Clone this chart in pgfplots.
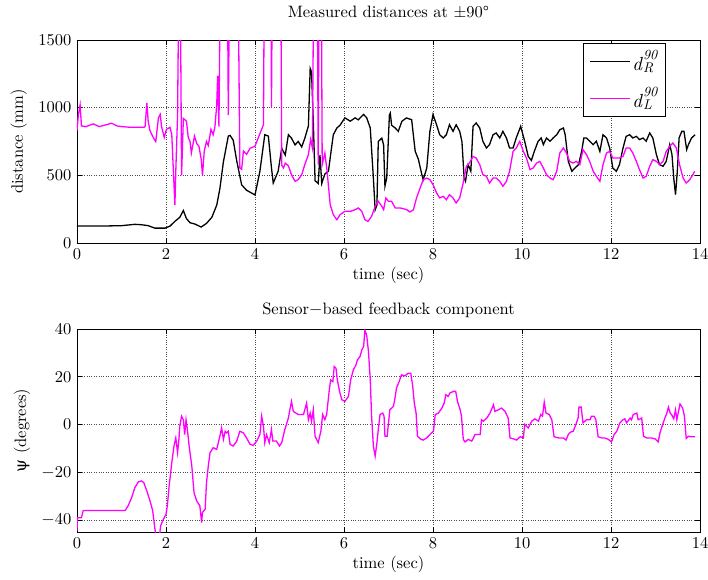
\documentclass[border=0pt]{standalone}
\usepackage{fontspec}
\setmainfont{lmroman10-regular.otf}[ItalicFont=lmroman10-italic.otf]
\newfontfamily\psifont{DejaVu Serif}
\usepackage{pgfplots}
\pgfplotsset{compat=1.18}
\definecolor{mag}{RGB}{255,0,255}
\newcommand{\dlab}[1]{\textit{d}\raisebox{-2pt}{\fontsize{14}{14}\selectfont\itshape\shortstack[l]{90\\#1}}}
\pgfplotsset{
 mstyle/.style={
  scale only axis, width=623pt, height=203pt,
  xmin=0, xmax=14, xtick={0,2,4,6,8,10,12,14},
  xticklabels={0,2,4,6,8,10,12,14},
  grid=major, grid style={dotted, black!70, line width=0.6pt},
  tick align=inside, major tick length=5pt,
  axis line style={line width=0.8pt},
  every tick/.style={black, line width=0.6pt},
  xlabel={time (sec)},
  xlabel style={yshift=4pt},
 }
}
\begin{document}
\fontsize{16.5}{19}\selectfont
\begin{tikzpicture}
\useasboundingbox (-77pt,-336pt) rectangle (631pt,243pt);
\begin{axis}[mstyle, at={(0pt,0pt)}, anchor=south west,
  ymin=0, ymax=1500, ytick={0,500,1000,1500}, yticklabels={0,500,1000,1500},
  ylabel={distance (mm)},
  title={Measured distances at ±90°},
  title style={yshift=10pt},
  legend style={at={(0.945,0.985)}, anchor=north east, draw=black, line width=0.8pt, inner xsep=6pt, inner ysep=5pt, row sep=10pt, font=\fontsize{19}{22}\selectfont},
  legend image code/.code={\draw[#1, line width=1.2pt] (0pt,0pt) -- (40pt,0pt);},
]
\addplot[black, line width=1.3pt] coordinates {
(0,125)(0.5,125)(1.0,128)(1.3,138)(1.45,135)(1.6,128)(1.75,110)(1.98,110)(2.09,125)(2.2,160)(2.31,190)(2.39,240)(2.46,180)(2.54,150)(2.65,140)(2.79,118)(2.91,145)(3.03,190)(3.14,280)(3.21,400)(3.29,600)(3.4,790)(3.44,795)(3.51,760)(3.59,606)(3.7,430)(3.81,390)(4.0,355)(4.11,530)(4.22,800)(4.3,790)(4.37,555)(4.41,443)(4.52,530)(4.6,700)(4.68,650)(4.75,800)(4.82,775)(4.9,725)(4.97,750)(5.05,710)(5.12,775)(5.2,865)(5.24,1290)(5.27,1265)(5.31,900)(5.35,460)(5.42,440)(5.46,650)(5.5,440)(5.57,510)(5.65,530)(5.69,630)(5.76,800)(5.84,850)(5.91,870)(6.02,925)(6.14,900)(6.25,925)(6.32,910)(6.44,950)(6.51,925)(6.59,850)(6.66,480)(6.7,245)(6.74,280)(6.77,750)(6.85,775)(6.89,725)(6.92,420)(6.96,480)(7.02,945)(7.04,960)(7.07,870)(7.15,850)(7.22,825)(7.3,899)(7.4,924)(7.52,911)(7.6,677)(7.67,620)(7.75,505)(7.78,468)(7.86,554)(7.93,825)(8.0,949)(8.08,874)(8.15,800)(8.23,776)(8.3,800)(8.37,874)(8.45,825)(8.52,874)(8.6,825)(8.65,750)(8.7,480)(8.73,456)(8.79,579)(8.85,530)(8.9,862)(8.97,887)(9.05,850)(9.12,752)(9.2,702)(9.27,727)(9.35,800)(9.42,813)(9.5,776)(9.57,825)(9.65,776)(9.72,702)(9.8,702)(9.87,776)(9.97,862)(10.06,752)(10.14,640)(10.21,610)(10.28,680)(10.36,750)(10.43,776)(10.48,727)(10.55,776)(10.63,752)(10.7,776)(10.78,800)(10.85,837)(10.93,850)(10.97,800)(11.04,603)(11.12,530)(11.19,554)(11.27,579)(11.34,677)(11.39,776)(11.45,776)(11.52,752)(11.6,727)(11.67,752)(11.75,677)(11.82,800)(11.9,776)(11.97,702)(12.04,554)(12.12,530)(12.19,579)(12.27,702)(12.34,788)(12.42,800)(12.49,776)(12.57,788)(12.64,764)(12.72,776)(12.79,752)(12.87,813)(12.94,776)(13.02,653)(13.09,579)(13.17,567)(13.24,603)(13.32,727)(13.37,653)(13.41,480)(13.45,357)(13.49,530)(13.53,776)(13.59,825)(13.64,825)(13.7,690)(13.74,727)(13.81,776)(13.89,800)
};
\addlegendentry{\dlab{R}}
\addplot[mag, line width=1.3pt] coordinates {
(0,830)(0.03,945)(0.07,1020)(0.1,865)(0.2,860)(0.37,880)(0.5,860)(0.78,885)(0.9,865)(1.0,860)(1.2,855)(1.5,855)(1.53,860)(1.57,1035)(1.6,900)(1.64,830)(1.72,775)(1.77,750)(1.83,925)(1.87,950)(1.9,860)(1.96,780)(2.01,840)(2.09,855)(2.13,800)(2.16,575)(2.2,280)(2.22,530)(2.26,945)(2.29,2000)(2.32,2000)(2.35,500)(2.39,920)(2.46,900)(2.5,780)(2.54,750)(2.57,665)(2.64,790)(2.69,735)(2.74,715)(2.79,620)(2.82,500)(2.86,680)(2.91,750)(2.95,720)(3.01,840)(3.06,800)(3.1,860)(3.14,1020)(3.16,1235)(3.19,860)(3.22,2000)(3.38,2000)(3.4,945)(3.43,2000)(3.62,2000)(3.66,554)(3.7,545)(3.74,680)(3.81,655)(3.89,700)(4.0,715)(4.07,775)(4.15,840)(4.19,875)(4.21,2000)(4.36,2000)(4.37,1000)(4.39,2000)(4.58,2000)(4.6,575)(4.64,555)(4.68,590)(4.75,570)(4.82,505)(4.9,456)(4.97,468)(5.05,505)(5.12,580)(5.2,653)(5.25,764)(5.29,702)(5.32,2000)(5.4,2000)(5.42,580)(5.44,2000)(5.49,2000)(5.51,580)(5.57,665)(5.62,530)(5.69,283)(5.76,209)(5.84,172)(5.91,209)(6.02,234)(6.14,234)(6.25,246)(6.32,259)(6.4,234)(6.47,172)(6.54,160)(6.62,197)(6.7,271)(6.77,308)(6.85,271)(6.89,246)(6.94,333)(7.0,308)(7.07,308)(7.15,259)(7.26,259)(7.33,254)(7.41,246)(7.48,229)(7.56,246)(7.63,333)(7.71,406)(7.78,468)(7.86,480)(7.93,468)(8.0,431)(8.08,370)(8.15,333)(8.23,345)(8.3,320)(8.37,357)(8.45,333)(8.52,296)(8.6,333)(8.67,431)(8.75,567)(8.82,591)(8.9,640)(8.97,628)(9.05,579)(9.12,505)(9.2,493)(9.27,443)(9.35,480)(9.42,480)(9.5,456)(9.57,419)(9.65,456)(9.72,530)(9.8,677)(9.87,702)(9.95,751)(10.03,677)(10.1,628)(10.18,542)(10.25,554)(10.33,591)(10.4,603)(10.48,554)(10.55,505)(10.63,480)(10.7,468)(10.78,530)(10.85,665)(10.93,702)(11.0,665)(11.07,603)(11.15,591)(11.22,603)(11.3,579)(11.37,690)(11.45,653)(11.52,603)(11.6,530)(11.67,493)(11.75,456)(11.82,579)(11.9,665)(11.97,677)(12.04,628)(12.19,628)(12.27,640)(12.34,702)(12.42,702)(12.49,665)(12.57,603)(12.64,542)(12.72,480)(12.79,493)(12.87,567)(12.94,616)(13.02,603)(13.09,579)(13.17,603)(13.24,677)(13.32,714)(13.39,739)(13.47,702)(13.54,579)(13.62,480)(13.69,443)(13.77,468)(13.84,505)(13.88,530)
};
\addlegendentry{\dlab{L}}
\end{axis}
\begin{axis}[mstyle, at={(0pt,-289pt)}, anchor=south west,
  ymin=-45, ymax=40, ytick={-40,-20,0,20,40},
  yticklabels={$-$40,$-$20,0,20,40},
  ylabel={{\psifont ψ} (degrees)},
  title={Sensor$-$based feedback component},
]
\addplot[mag, line width=1.3pt] coordinates {
(0,-44.5)(0.01,-39)(0.1,-39)(0.14,-36)(0.5,-36)(1.08,-36)(1.15,-34)(1.23,-30.5)(1.3,-26.4)(1.38,-24)(1.45,-23.6)(1.5,-24.3)(1.57,-27.8)(1.64,-32)(1.7,-36)(1.75,-43.6)(1.78,-47)(1.85,-47)(1.88,-42.4)(1.94,-39.7)(2.0,-37.6)(2.03,-34)(2.07,-25.8)(2.13,-16)(2.18,-9)(2.22,-5.6)(2.26,-11.8)(2.29,-6.2)(2.31,-0.7)(2.35,3.5)(2.39,2)(2.42,-4.2)(2.45,2)(2.48,-2)(2.52,-9)(2.58,-17.4)(2.63,-28.5)(2.69,-32)(2.76,-34)(2.8,-41)(2.82,-36.8)(2.88,-35.4)(2.91,-24.3)(2.95,-17.4)(2.99,-11.8)(3.06,-9.7)(3.14,-10.4)(3.21,-4.9)(3.25,-1.4)(3.29,-6.2)(3.33,-2.8)(3.36,-3.5)(3.4,-2.8)(3.44,-8.3)(3.51,-9)(3.59,-6.9)(3.66,-2.8)(3.74,-3.5)(3.81,-5.6)(3.89,-8.3)(3.96,-8.7)(4.04,-6.9)(4.11,-4.2)(4.15,3.5)(4.19,-0.7)(4.22,-7.6)(4.26,-4.2)(4.32,-7.6)(4.37,-2.1)(4.4,-6.9)(4.48,-6.9)(4.55,-9)(4.6,-7.6)(4.67,-2.1)(4.75,2.7)(4.79,6.9)(4.82,9.7)(4.86,5.5)(4.97,4.2)(5.09,4.2)(5.16,9)(5.2,2)(5.24,4.8)(5.27,1.4)(5.31,6.2)(5.35,-4.9)(5.42,-7.6)(5.48,-2.8)(5.52,4.2)(5.57,2)(5.61,4.2)(5.67,14.6)(5.7,18.7)(5.75,18)(5.78,24.3)(5.82,23.6)(5.85,18.7)(5.9,13.9)(5.95,10.4)(6.02,9.7)(6.1,11.8)(6.15,18.7)(6.21,22.9)(6.27,25)(6.3,27)(6.36,28.5)(6.4,31.2)(6.44,32.6)(6.47,39.5)(6.51,37.4)(6.55,30.5)(6.59,18.7)(6.62,3.5)(6.66,-9)(6.7,-13.2)(6.74,-7.6)(6.77,-2.1)(6.81,4.2)(6.87,4.8)(6.9,3.5)(6.92,-4.9)(6.97,-4.9)(7.0,0.7)(7.03,6.2)(7.11,7.6)(7.14,10.4)(7.18,15.3)(7.24,18)(7.29,20.8)(7.37,20.4)(7.44,21.5)(7.5,21.5)(7.54,16.7)(7.58,9)(7.62,4.8)(7.65,-4.9)(7.73,-6.2)(7.78,-6.5)(7.86,-5.6)(7.93,-4.2)(8.01,-2.8)(8.05,4.2)(8.12,4.8)(8.2,6.9)(8.25,9)(8.29,12.5)(8.34,11.8)(8.38,13.2)(8.46,13.9)(8.51,13.9)(8.55,9.7)(8.61,6.2)(8.64,3.5)(8.68,-6.2)(8.72,-7.3)(8.79,-6.2)(8.87,-6.9)(8.91,-5.6)(8.94,-4.2)(9.06,-4.2)(9.09,2)(9.13,1.4)(9.21,2.7)(9.28,4.8)(9.36,8.3)(9.39,5.5)(9.47,6.2)(9.54,6.9)(9.62,5.5)(9.69,2.7)(9.73,-5.6)(9.81,-6)(9.88,-6.5)(9.96,-5.1)(10.03,-5.6)(10.06,0)(10.14,-1.4)(10.22,1.4)(10.29,2.4)(10.37,1.4)(10.42,4.2)(10.46,3.5)(10.5,9.4)(10.54,4.8)(10.61,4.2)(10.67,2)(10.72,-5.1)(10.82,-5.6)(10.93,-5.6)(10.99,-6.5)(11.04,-4.2)(11.09,-3.2)(11.15,-2.8)(11.21,0)(11.26,2.7)(11.28,7.3)(11.33,7.3)(11.37,0.7)(11.45,2)(11.53,2)(11.56,3.5)(11.62,3.5)(11.66,2)(11.71,-5.1)(11.79,-5.6)(11.86,-5.6)(11.94,-6.2)(12.01,-7.3)(12.07,-4.2)(12.13,-2.8)(12.2,0.7)(12.27,2)(12.31,2.4)(12.35,0.7)(12.43,2.7)(12.46,2)(12.5,4.2)(12.58,4.8)(12.61,2)(12.69,2.7)(12.73,-4.9)(12.8,-5.6)(12.91,-5.6)(12.99,-6)(13.06,-7.3)(13.1,-3.5)(13.16,0)(13.21,2.7)(13.25,4.5)(13.29,7.3)(13.33,4.8)(13.36,4.2)(13.41,2.4)(13.45,6.2)(13.48,2)(13.51,4.8)(13.55,8.6)(13.61,6.9)(13.65,3.5)(13.69,-5.8)(13.74,-4.9)(13.81,-5.1)(13.89,-5.1)
};
\end{axis}
\end{tikzpicture}
\end{document}
